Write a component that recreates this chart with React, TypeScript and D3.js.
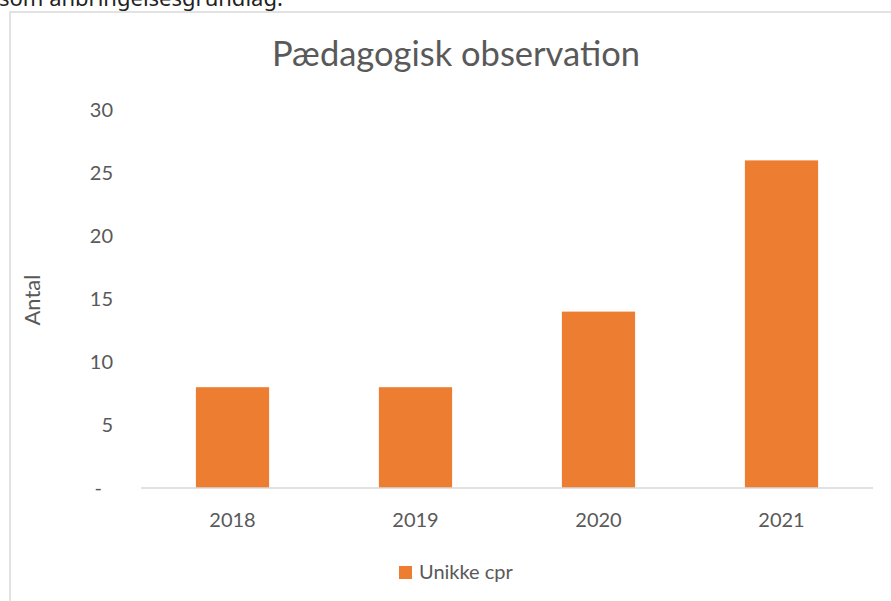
import React from "react";
import * as d3 from "d3";

const years = ["2018", "2019", "2020", "2021"];
const values = [8, 8, 14, 26];
const yTicks = [0, 5, 10, 15, 20, 25, 30];
const seriesName = "Unikke cpr";
const title = "Pædagogisk observation";

const width = 891;
const height = 601;
const margin = { top: 110, right: 18, bottom: 113, left: 141 };
const font = "Lato, 'Open Sans', sans-serif";
const textColor = "#595959";
const barColor = "#ED7D31";

export default function App() {
  const x = d3
    .scaleBand()
    .domain(years)
    .range([margin.left, width - margin.right])
    .paddingInner(0.6)
    .paddingOuter(0.3);

  const y = d3
    .scaleLinear()
    .domain([0, 30])
    .range([height - margin.bottom, margin.top]);

  const baseY = y(0);

  return (
    <svg
      width={width}
      height={height}
      style={{ position: "absolute", left: 0, top: 0, background: "#fff" }}
    >
      {/* cut-off sentence above the chart */}
      <text x={-1} y={6} fontFamily="'Noto Sans', sans-serif" fontSize={22} fill="#222">
        som anbringelsesgrundlag.
      </text>

      {/* chart frame */}
      <rect x={10} y={12} width={1000} height={1000} fill="#fff" stroke="#d9d9d9" strokeWidth={1.5} />

      <text x={456} y={66} textAnchor="middle" fontFamily={font} fontSize={34.5} fill={textColor}>
        {title}
      </text>

      {/* y tick labels */}
      {yTicks.map((t) => (
        <text
          key={t}
          x={t === 0 ? 102 : 113}
          y={y(t)}
          dy="0.35em"
          textAnchor="end"
          fontFamily={font}
          fontSize={20}
          fill={textColor}
        >
          {t === 0 ? "-" : t}
        </text>
      ))}

      <text
        transform={`translate(40, 300) rotate(-90)`}
        textAnchor="middle"
        fontFamily={font}
        fontSize={22}
        fill={textColor}
      >
        Antal
      </text>

      {/* bars */}
      {years.map((yr, i) => (
        <rect
          key={yr}
          x={x(yr)}
          y={y(values[i])}
          width={x.bandwidth()}
          height={baseY - y(values[i])}
          fill={barColor}
        />
      ))}

      {/* x axis */}
      <line x1={margin.left} x2={width - margin.right} y1={baseY} y2={baseY} stroke="#d9d9d9" strokeWidth={1.5} />
      {years.map((yr) => (
        <text
          key={yr}
          x={(x(yr) as number) + x.bandwidth() / 2}
          y={527}
          textAnchor="middle"
          fontFamily={font}
          fontSize={20}
          fill={textColor}
        >
          {yr}
        </text>
      ))}

      {/* legend */}
      <rect x={399} y={566} width={13} height={13} fill={barColor} />
      <text x={419} y={579} fontFamily={font} fontSize={20} fill={textColor}>
        {seriesName}
      </text>
    </svg>
  );
}
